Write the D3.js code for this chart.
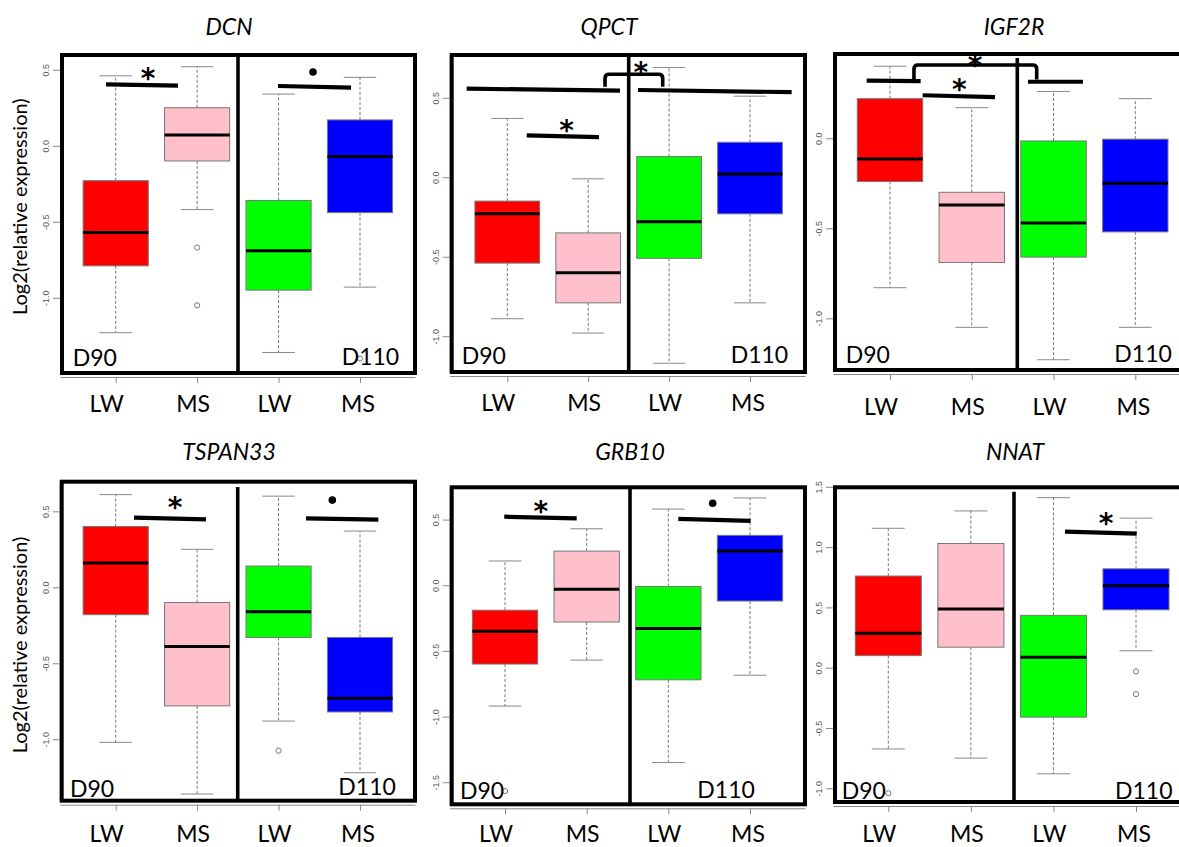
<!DOCTYPE html>
<html>
<head>
<meta charset="utf-8">
<script src="https://cdn.jsdelivr.net/npm/d3@7"></script>
<style>
  body { margin: 0; background: #fff; }
  svg { display: block; font-family: Lato, "Open Sans", sans-serif; }
  .axis path, .axis line { stroke: #888; }
  .axis text { fill: #555; }
</style>
</head>
<body>
<svg id="chart" width="1179" height="847"></svg>
<script>
// Six boxplot panels: relative expression, LW vs MS at D90 and D110

const genes = ['DCN', 'QPCT', 'IGF2R', 'TSPAN33', 'GRB10', 'NNAT'];
const breeds = ['LW', 'MS', 'LW', 'MS'];
const ages = ['D90', 'D110'];

// [lower whisker, Q1, median, Q3, upper whisker] for LW-D90, MS-D90, LW-D110, MS-D110
const dcnStats     = [[-1.23, -0.79, -0.57, -0.23, 0.46], [-0.42, -0.10, 0.07, 0.25, 0.52], [-1.36, -0.95, -0.69, -0.36, 0.34], [-0.93, -0.44, -0.07, 0.17, 0.45]];
const qpctStats    = [[-0.89, -0.54, -0.23, -0.15, 0.37], [-0.98, -0.79, -0.60, -0.35, -0.01], [-1.17, -0.51, -0.28, 0.13, 0.69], [-0.79, -0.23, 0.02, 0.22, 0.51]];
const igf2rStats   = [[-0.83, -0.24, -0.115, 0.22, 0.40], [-1.05, -0.69, -0.37, -0.30, 0.17], [-1.23, -0.66, -0.47, -0.015, 0.26], [-1.05, -0.52, -0.25, -0.005, 0.22]];
const tspan33Stats = [[-1.02, -0.18, 0.16, 0.40, 0.61], [-1.36, -0.78, -0.39, -0.10, 0.25], [-0.88, -0.33, -0.16, 0.14, 0.60], [-1.22, -0.82, -0.73, -0.33, 0.37]];
const grb10Stats   = [[-0.92, -0.60, -0.35, -0.19, 0.185], [-0.57, -0.28, -0.03, 0.26, 0.43], [-1.35, -0.72, -0.33, -0.01, 0.58], [-0.685, -0.12, 0.26, 0.38, 0.665]];
const nnatStats    = [[-0.674, 0.10, 0.285, 0.76, 1.156], [-0.75, 0.17, 0.487, 1.03, 1.30], [-0.88, -0.41, 0.086, 0.434, 1.41], [0.14, 0.48, 0.68, 0.82, 1.24]];

const dcnOutliers     = [[], [-0.67, -1.05], [], [-1.40]];
const qpctOutliers    = [[], [], [], []];
const igf2rOutliers   = [[], [], [], []];
const tspan33Outliers = [[], [], [-1.075], []];
const grb10Outliers   = [[-1.567], [], [], []];
const nnatOutliers    = [[-1.041], [], [], [-0.03, -0.22]];

const dcnTicks     = [-1.0, -0.5, 0.0, 0.5];
const qpctTicks    = [-1.0, -0.5, 0.0, 0.5];
const igf2rTicks   = [-1.0, -0.5, 0.0];
const tspan33Ticks = [-1.0, -0.5, 0.0, 0.5];
const grb10Ticks   = [-1.5, -1.0, -0.5, 0.0, 0.5];
const nnatTicks    = [-1.0, -0.5, 0.0, 0.5, 1.0, 1.5];

// value at bottom / top of each panel frame
const dcnExtent     = [-1.495, 0.597];
const qpctExtent    = [-1.225, 0.769];
const igf2rExtent   = [-1.287, 0.468];
const tspan33Extent = [-1.404, 0.695];
const grb10Extent   = [-1.668, 0.746];
const nnatExtent    = [-1.114, 1.496];

// significance bars [x1, y1, x2, y2] in group units / data units
const dcnBars     = [[0.881, 0.404, 1.765, 0.395], [2.993, 0.393, 3.89, 0.382]];
const qpctBars    = [[0.498, 0.557, 2.393, 0.545], [2.616, 0.549, 4.515, 0.535], [1.24, 0.264, 2.133, 0.252]];
const igf2rBars   = [[0.715, 0.320, 1.375, 0.317], [2.688, 0.314, 3.36, 0.314], [1.40, 0.239, 2.284, 0.228]];
const tspan33Bars = [[1.225, 0.458, 2.109, 0.447], [3.337, 0.454, 4.225, 0.445]];
const grb10Bars   = [[0.991, 0.522, 1.878, 0.510], [3.122, 0.505, 4.008, 0.490]];
const nnatBars    = [[3.14, 1.128, 4.008, 1.111]];

// brackets [x left, x right, y feet, y top]
const qpctBrackets  = [[2.208, 2.921, 0.570, 0.648]];
const igf2rBrackets = [[1.293, 2.794, 0.326, 0.407]];

// marks [symbol, x, y]
const dcnMarks     = [['*', 1.397, 0.485], ['dot', 3.423, 0.485]];
const qpctMarks    = [['*', 2.649, 0.696], ['*', 1.734, 0.329]];
const igf2rMarks   = [['*', 2.04, 0.435], ['*', 1.848, 0.306]];
const tspan33Marks = [['*', 1.728, 0.563], ['dot', 3.66, 0.574]];
const grb10Marks   = [['*', 1.44, 0.604], ['dot', 3.543, 0.625]];
const nnatMarks    = [['*', 3.637, 1.247]];

const panels = [
  { stats: dcnStats, out: dcnOutliers, ticks: dcnTicks, extent: dcnExtent, bars: dcnBars, brackets: [], marks: dcnMarks },
  { stats: qpctStats, out: qpctOutliers, ticks: qpctTicks, extent: qpctExtent, bars: qpctBars, brackets: qpctBrackets, marks: qpctMarks },
  { stats: igf2rStats, out: igf2rOutliers, ticks: igf2rTicks, extent: igf2rExtent, bars: igf2rBars, brackets: igf2rBrackets, marks: igf2rMarks },
  { stats: tspan33Stats, out: tspan33Outliers, ticks: tspan33Ticks, extent: tspan33Extent, bars: tspan33Bars, brackets: [], marks: tspan33Marks },
  { stats: grb10Stats, out: grb10Outliers, ticks: grb10Ticks, extent: grb10Extent, bars: grb10Bars, brackets: [], marks: grb10Marks },
  { stats: nnatStats, out: nnatOutliers, ticks: nnatTicks, extent: nnatExtent, bars: nnatBars, brackets: [], marks: nnatMarks },
];

// page layout (pixels)
const layout = [
  { left: 62,    top: 55,    right: 415,  bottom: 373,   divX: 238,    divTop: 55,    xr: [115.7, 360],  titleX: 229,  titleY: 35,  d90: [72.7, 366],  d110: [341.7, 365],   labelY: 412 },
  { left: 451.7, top: 55,    right: 805,  bottom: 372,   divX: 628.7,  divTop: 55,    xr: [507.3, 750],  titleX: 609,  titleY: 35,  d90: [461.7, 364], d110: [730.7, 362.7], labelY: 411 },
  { left: 835,   top: 54,    right: 1184, bottom: 370,   divX: 1017.3, divTop: 58,    xr: [890, 1135.3], titleX: 1014, titleY: 35,  d90: [845.7, 363], d110: [1114.3, 362], labelY: 415 },
  { left: 61.7,  top: 481.7, right: 415,  bottom: 800.7, divX: 237.7,  divTop: 487,   xr: [115.7, 360],  titleX: 229,  titleY: 460, d90: [70, 796.7],  d110: [338.3, 795],   labelY: 842 },
  { left: 451.7, top: 487.3, right: 805,  bottom: 804.3, divX: 630,    divTop: 487.3, xr: [505, 750],    titleX: 630,  titleY: 460, d90: [460, 799.3], d110: [697.3, 797.7], labelY: 842 },
  { left: 835,   top: 487.3, right: 1184, bottom: 802,   divX: 1014,   divTop: 491.7, xr: [888.3, 1136], titleX: 1015, titleY: 460, d90: [841.7, 799], d110: [1115, 799],    labelY: 842 },
];
const labelShift = [-9, -4, -4, -2];
const yTitlePos = [[27, 206.7], [27, 645]];

const boxFill = ['#ff0000', '#ffc0cb', '#00ff00', '#0000ff'];
const svg = d3.select('#chart');

panels.forEach((p, i) => {
  const L = layout[i];
  const g = svg.append('g');
  const y = d3.scaleLinear().domain(p.extent).range([L.bottom, L.top]);
  const x = d3.scaleLinear().domain([1, 4]).range(L.xr);
  const bw = (x(2) - x(1)) * 0.8;

  // R style axes
  g.append('g').attr('class', 'axis')
    .attr('transform', `translate(${L.left - 2},0)`)
    .call(d3.axisLeft(y).tickValues(p.ticks).tickSize(7).tickSizeOuter(0).tickFormat(d => d.toFixed(1)))
    .call(a => a.selectAll('text')
      .attr('x', 0).attr('y', 0).attr('dy', null)
      .attr('text-anchor', 'middle')
      .attr('font-size', 9).attr('font-family', '"Liberation Sans", Arial, sans-serif')
      .attr('transform', 'translate(-11,0) rotate(-90)'));

  g.append('g').attr('class', 'axis')
    .attr('transform', `translate(0,${L.bottom + 4})`)
    .call(d3.axisBottom(d3.scaleLinear().domain([0, 1]).range([L.left - 2, L.right])).tickValues([]).tickSizeOuter(0));
  g.append('g').attr('class', 'axis')
    .attr('transform', `translate(0,${L.bottom + 4})`)
    .call(d3.axisBottom(x).tickValues([1, 2, 3, 4]).tickSize(6).tickFormat(''))
    .call(a => a.select('.domain').remove());

  // boxes
  p.stats.forEach((s, j) => {
    const [lo, q1, med, q3, hi] = s;
    const cx = x(j + 1);
    const b = g.append('g');
    b.selectAll('.wh').data([[q3, hi], [q1, lo]]).join('line')
      .attr('x1', cx).attr('x2', cx)
      .attr('y1', d => y(d[0])).attr('y2', d => y(d[1]))
      .attr('stroke', '#777').attr('stroke-width', 1).attr('stroke-dasharray', '3,2');
    b.selectAll('.cap').data([hi, lo]).join('line')
      .attr('x1', cx - bw / 4).attr('x2', cx + bw / 4)
      .attr('y1', d => y(d)).attr('y2', d => y(d))
      .attr('stroke', '#888').attr('stroke-width', 1);
    b.append('rect')
      .attr('x', cx - bw / 2).attr('y', y(q3))
      .attr('width', bw).attr('height', y(q1) - y(q3))
      .attr('fill', boxFill[j]).attr('stroke', '#777').attr('stroke-width', 1);
    b.append('line')
      .attr('x1', cx - bw / 2).attr('x2', cx + bw / 2)
      .attr('y1', y(med)).attr('y2', y(med))
      .attr('stroke', '#000').attr('stroke-width', 3);
    b.selectAll('circle').data(p.out[j]).join('circle')
      .attr('cx', cx).attr('cy', d => y(d)).attr('r', 2.6)
      .attr('fill', 'none').attr('stroke', '#777').attr('stroke-width', 1);
  });

  // frame and divider
  g.append('rect')
    .attr('x', L.left).attr('y', L.top)
    .attr('width', L.right - L.left).attr('height', L.bottom - L.top)
    .attr('fill', 'none').attr('stroke', '#000').attr('stroke-width', 4);
  g.append('line')
    .attr('x1', L.divX).attr('x2', L.divX).attr('y1', L.divTop).attr('y2', L.bottom)
    .attr('stroke', '#000').attr('stroke-width', 3.6);

  // significance
  g.selectAll('.bar').data(p.bars).join('line')
    .attr('x1', d => x(d[0])).attr('y1', d => y(d[1]))
    .attr('x2', d => x(d[2])).attr('y2', d => y(d[3]))
    .attr('stroke', '#000').attr('stroke-width', 4.2);
  g.selectAll('.brk').data(p.brackets).join('path')
    .attr('d', d => {
      const x1 = x(d[0]), x2 = x(d[1]), yf = y(d[2]), yt = y(d[3]), r = 4;
      return `M${x1},${yf}V${yt + r}Q${x1},${yt} ${x1 + r},${yt}H${x2 - r}Q${x2},${yt} ${x2},${yt + r}V${yf}`;
    })
    .attr('fill', 'none').attr('stroke', '#000').attr('stroke-width', 3.6);
  p.marks.forEach(m => {
    if (m[0] === 'dot') {
      g.append('circle').attr('cx', x(m[1])).attr('cy', y(m[2])).attr('r', 3.8).attr('fill', '#000');
    } else {
      g.append('text').attr('x', x(m[1])).attr('y', y(m[2]) + 15.5)
        .attr('text-anchor', 'middle').attr('font-size', 28)
        .attr('font-family', '"DejaVu Sans", sans-serif').attr('font-weight', 'bold')
        .attr('fill', '#000').text(m[0]);
    }
  });

  // labels
  g.append('text').attr('x', L.d90[0]).attr('y', L.d90[1]).attr('font-size', 23).text(ages[0]);
  g.append('text').attr('x', L.d110[0]).attr('y', L.d110[1]).attr('font-size', 23).text(ages[1]);
  g.selectAll('.xl').data(breeds).join('text')
    .attr('x', (d, j) => x(j + 1) + labelShift[j]).attr('y', L.labelY)
    .attr('text-anchor', 'middle').attr('font-size', 23).text(d => d);
  g.append('text').attr('x', L.titleX).attr('y', L.titleY)
    .attr('text-anchor', 'middle').attr('font-size', 23).attr('font-style', 'italic')
    .text(genes[i]);
});

yTitlePos.forEach(([tx, ty]) => {
  svg.append('text')
    .attr('transform', `translate(${tx},${ty}) rotate(-90)`)
    .attr('text-anchor', 'middle').attr('font-size', 20)
    .text('Log2(relative expression)');
});
</script>
</body>
</html>
